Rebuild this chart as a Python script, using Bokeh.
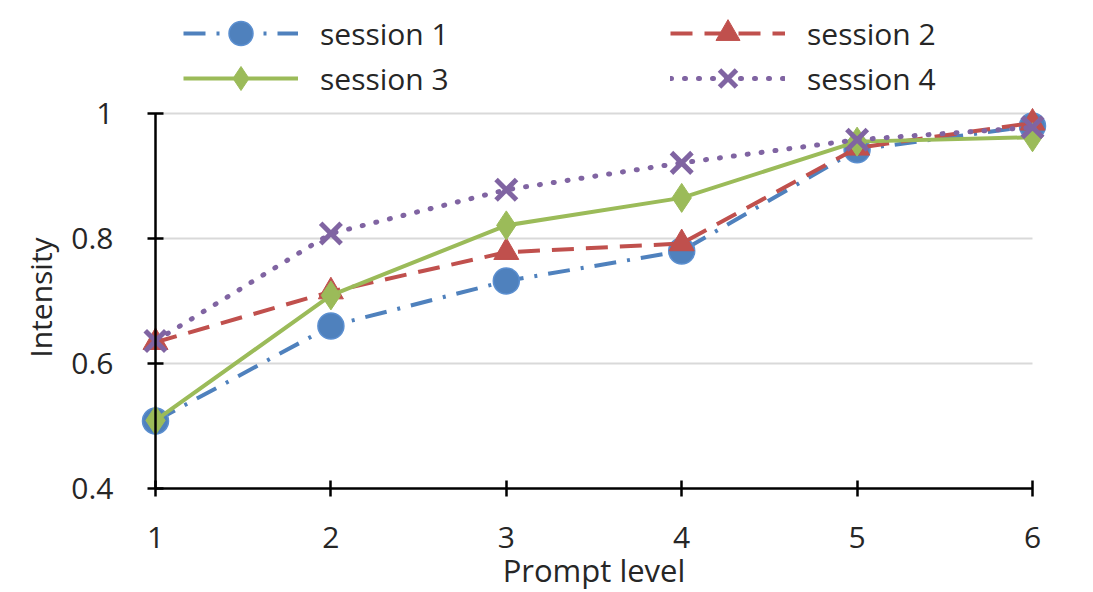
from bokeh.plotting import figure
from bokeh.models import Range1d, FixedTicker, Legend, LegendItem, Label, ColumnDataSource
from bokeh.embed import file_html
from bokeh.resources import INLINE

# ---- data ----
prompt_level = [1, 2, 3, 4, 5, 6]
session_1 = [0.508, 0.660, 0.732, 0.780, 0.942, 0.980]
session_2 = [0.634, 0.715, 0.778, 0.792, 0.945, 0.985]
session_3 = [0.509, 0.709, 0.821, 0.865, 0.955, 0.962]
session_4 = [0.636, 0.808, 0.878, 0.921, 0.958, 0.978]
series_names = ["session 1", "session 2", "session 3", "session 4"]
x_ticks = [1, 2, 3, 4, 5, 6]
y_ticks = [0.4, 0.6, 0.8, 1.0]
y_tick_labels = ["0.4", "0.6", "0.8", "1"]
grid_values = [0.6, 0.8, 1.0]
x_label = "Prompt level"
y_label = "Intensity"

FONT = "Open Sans"
TXT = "#262626"

W, H = 1092, 591
PX_X, PX_Y = 175.4, 625.0          # pixels per data unit
X0_PX, Y1_PX = 155, 113            # pixel position of x=1 and y=1
xr = Range1d(1 - X0_PX / PX_X, 1 + (W - X0_PX) / PX_X)
yr = Range1d(1 - (H - Y1_PX) / PX_Y, 1 + Y1_PX / PX_Y)

p = figure(width=W, height=H, output_backend="svg", toolbar_location=None,
           x_range=xr, y_range=yr,
           min_border_left=0, min_border_right=0, min_border_top=0, min_border_bottom=0)
p.outline_line_color = None
p.background_fill_color = "white"
p.border_fill_color = "white"
p.xgrid.visible = False
p.ygrid.visible = False

# gridlines from tick values
gsrc = ColumnDataSource(dict(x0=[x_ticks[0]] * len(grid_values), x1=[x_ticks[-1]] * len(grid_values),
                             y=grid_values))
p.segment(x0="x0", x1="x1", y0="y", y1="y", source=gsrc, line_color="#d9d9d9", line_width=2.2,
          level="underlay")

for ax in (p.xaxis[0], p.yaxis[0]):
    ax.axis_line_color = "black"
    ax.axis_line_width = 2.5
    ax.major_tick_line_color = "black"
    ax.major_tick_line_width = 2.5
    ax.major_tick_in = 8
    ax.major_tick_out = 8
    ax.minor_tick_line_color = None
    ax.major_label_text_font = FONT
    ax.major_label_text_font_size = "30px"
    ax.major_label_text_color = TXT

p.xaxis.fixed_location = y_ticks[0]
p.yaxis.fixed_location = x_ticks[0]
p.xaxis.bounds = (x_ticks[0], x_ticks[-1])
p.yaxis.bounds = (y_ticks[0], y_ticks[-1])
p.xaxis.ticker = FixedTicker(ticks=x_ticks)
p.yaxis.ticker = FixedTicker(ticks=y_ticks)
p.yaxis.major_label_overrides = {v: t for v, t in zip(y_ticks, y_tick_labels)}
p.xaxis.major_label_standoff = 30
p.yaxis.major_label_standoff = 34

BLUE, RED, GREEN, PURPLE = "#4F81BD", "#C0504D", "#9BBB59", "#8064A2"

l1 = p.line(prompt_level, session_1, line_color=BLUE, line_width=4, line_dash="22 11 3 11")
m1 = p.scatter(prompt_level, session_1, marker="circle", size=26, fill_color=BLUE, line_color="#5b8fd0",
               line_width=1.5)
l2 = p.line(prompt_level, session_2, line_color=RED, line_width=4, line_dash="22 12")
m2 = p.scatter(prompt_level, session_2, marker="triangle", size=25, fill_color=RED, line_color=RED)
l3 = p.line(prompt_level, session_3, line_color=GREEN, line_width=4)
m3 = p.scatter(prompt_level, session_3, marker="diamond", size=29, fill_color=GREEN, line_color=GREEN)
l4 = p.line(prompt_level, session_4, line_color=PURPLE, line_width=5, line_dash="1 13",
            line_cap="round")
m4 = p.scatter(prompt_level, session_4, marker="x", size=29, line_color=PURPLE, line_width=5)

renderers = [(l1, m1), (l2, m2), (l3, m3), (l4, m4)]


def make_row(idx, bottom_y):
    items = [LegendItem(label=series_names[i], renderers=list(renderers[i])) for i in idx]
    return Legend(items=items, orientation="horizontal", location=(183, bottom_y),
                  glyph_width=115, glyph_height=60, label_standoff=22, label_width=346, spacing=4,
                  padding=0, margin=0, border_line_color=None, background_fill_alpha=0,
                  label_text_font=FONT, label_text_font_size="30px", label_text_color=TXT)


p.add_layout(make_row([0, 1], H - 63), "center")
p.add_layout(make_row([2, 3], H - 108), "center")

p.add_layout(Label(x=3.5, y=1 - (569 - Y1_PX) / PX_Y, text=x_label, text_font=FONT,
                   text_font_size="31px", text_color=TXT, text_align="center",
                   text_baseline="middle"))
p.add_layout(Label(x=1 - (X0_PX - 40) / PX_X, y=1 - (297 - Y1_PX) / PX_Y, text=y_label, text_font=FONT,
                   text_font_size="30px", text_color=TXT, text_align="center", text_baseline="middle",
                   angle=1.5708))

open("out.html", "w").write(file_html(p, INLINE))
